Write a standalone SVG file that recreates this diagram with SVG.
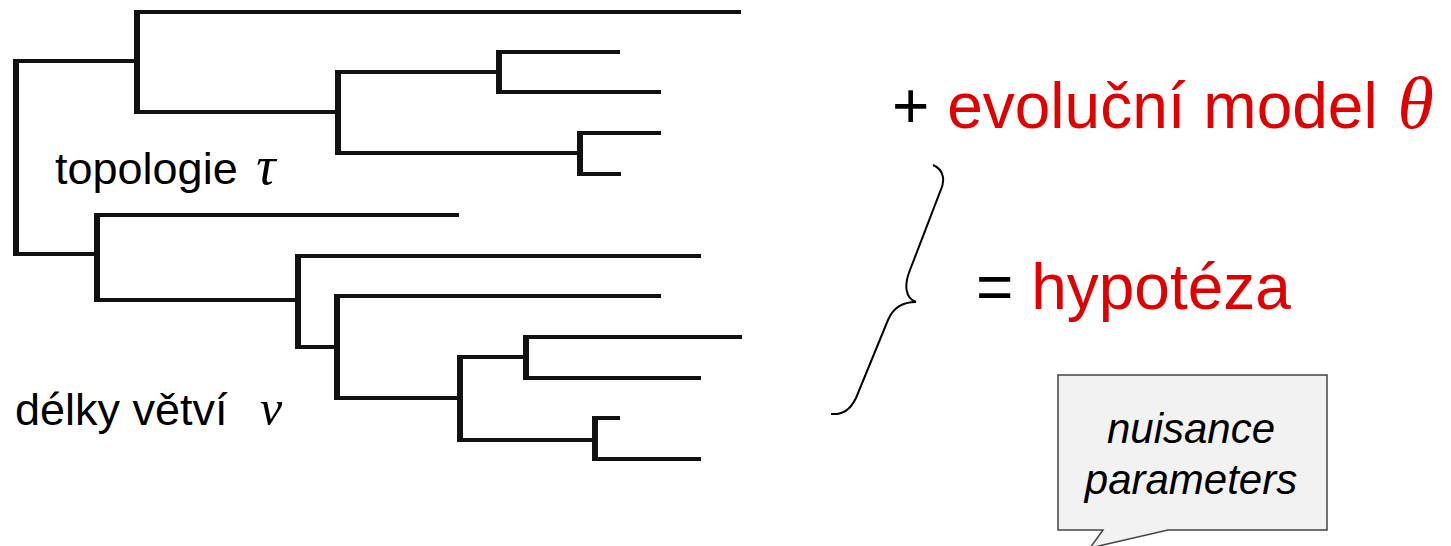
<svg xmlns="http://www.w3.org/2000/svg" width="1451" height="546" viewBox="0 0 1451 546">
<style>
.h{stroke:#111;stroke-width:4;fill:none}
.v{stroke:#111;stroke-width:6;fill:none}
.lbl{font-family:"Liberation Sans",Arial,sans-serif;font-size:45px;fill:#000}
.big{font-family:"Liberation Sans",Arial,sans-serif;font-size:64px}
.red{fill:#e00000}
.greek{font-family:"Liberation Serif","Times New Roman",serif;font-style:italic}
.note{font-family:"Liberation Sans",Arial,sans-serif;font-size:42px;font-style:italic;fill:#000;text-anchor:middle}
</style>
<rect width="1451" height="546" fill="#fff"/>
<g id="tree">
<path class="h" d="M16 61H137M16 254H97M137 12H741M137 112H338M338 72H499M338 153H580M499 52H620M499 92H661M580 133H661M580 174H621M97 215H459M97 300H298M298 256H701M298 347H337M337 296H661M337 398H460M460 357H526M460 440H595M526 337H742M526 378H701M595 418H620M595 459H701"/>
<path class="v" d="M16 59V256M137 10V114M338 70V155M499 50V94M580 131V176M97 213V302M298 254V349M337 294V400M460 355V442M526 335V380M595 416V461"/>
</g>
<g id="topologie"><text class="lbl" x="55" y="184">topologie <tspan class="greek" font-size="54" dx="6">τ</tspan></text></g>
<g id="delky"><text class="lbl" x="15" y="425" font-size="46">délky větví <tspan class="greek" font-size="50" dx="20">ν</tspan></text></g>
<g id="model"><text class="big" x="892" y="128"><tspan fill="#000">+ </tspan><tspan class="red">evoluční model <tspan class="greek" font-size="74" dx="2">θ</tspan></tspan></text></g>
<g id="brace"><path d="M933 165C945 170 945 182 940 192L910 270C904 285 905 298 916 302C903 302 893 308 888 320L856 398C850 410 843 415 831 414" fill="none" stroke="#000" stroke-width="2"/></g>
<g id="hypoteza"><text class="big" x="976" y="309"><tspan fill="#000">= </tspan><tspan class="red">hypotéza</tspan></text></g>
<g id="callout">
<path d="M1058 375H1327V530H1168L1090 548L1103 530H1058Z" fill="#f2f2f2" stroke="#444" stroke-width="1.5"/>
<text class="note" x="1191" y="443">nuisance</text>
<text class="note" x="1191" y="494">parameters</text>
</g>
</svg>
